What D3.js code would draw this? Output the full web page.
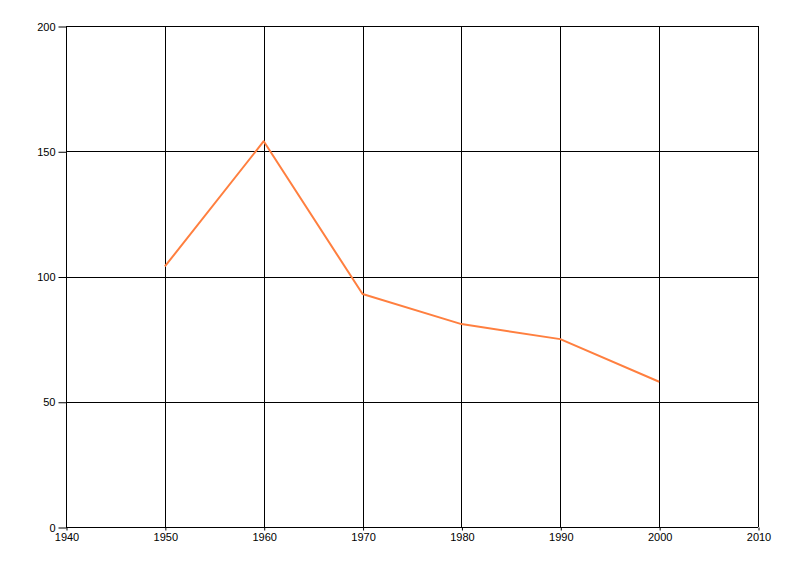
<!DOCTYPE html>
<html><head><meta charset="utf-8">
<script src="https://cdn.jsdelivr.net/npm/d3@7"></script>
<style>body{margin:0;background:#fff}svg{display:block}text{font-family:"Liberation Sans",Arial,sans-serif;font-size:11px;fill:#000}</style>
</head><body>
<script>
const years = [1950, 1960, 1970, 1980, 1990, 2000];
const values = [104, 154, 93, 81, 75, 58];
const xTicks = [1940, 1950, 1960, 1970, 1980, 1990, 2000, 2010];
const yTicks = [0, 50, 100, 150, 200];

const W = 800, H = 576;
const m = {left: 66, right: 42, top: 26, bottom: 49};
const svg = d3.select("body").append("svg").attr("width", W).attr("height", H);
const x = d3.scaleLinear().domain([1940, 2010]).range([m.left, W - m.right]);
const y = d3.scaleLinear().domain([0, 200]).range([H - m.bottom, m.top]);

const g = svg.append("g");
// grid
g.selectAll(".vg").data(xTicks).join("line")
  .attr("x1", d => Math.round(x(d)) + 0.5).attr("x2", d => Math.round(x(d)) + 0.5)
  .attr("y1", y(200)).attr("y2", y(0)).attr("stroke", "#000").attr("stroke-width", 1);
g.selectAll(".hg").data(yTicks).join("line")
  .attr("x1", x(1940)).attr("x2", x(2010))
  .attr("y1", d => Math.round(y(d)) + 0.5).attr("y2", d => Math.round(y(d)) + 0.5)
  .attr("stroke", "#000").attr("stroke-width", 1);

// y axis
const ya = svg.append("g").attr("transform", `translate(${Math.round(x(1940)) + 0.5},0.5)`)
  .call(d3.axisLeft(y).tickValues(yTicks).tickSize(8).tickPadding(3).tickFormat(d3.format("d")));
ya.select(".domain").remove();
ya.selectAll("line").attr("stroke", "#000");
ya.selectAll("text").style("font-size", "11px").attr("font-family", null);

// x axis
const xa = svg.append("g").attr("transform", `translate(0.5,${Math.round(y(0)) + 0.5})`)
  .call(d3.axisBottom(x).tickValues(xTicks).tickSize(3).tickPadding(3).tickFormat(d3.format("d")));
xa.select(".domain").remove();
xa.selectAll("line").attr("stroke", "#000");
xa.selectAll("text").style("font-size", "11px").attr("font-family", null);

// line
const line = d3.line().x((d, i) => x(years[i])).y(d => y(d));
svg.append("path").datum(values).attr("d", line)
  .attr("fill", "none").attr("stroke", "#ff7f3f").attr("stroke-width", 2)
  .attr("stroke-linejoin", "round");
</script>
</body></html>
